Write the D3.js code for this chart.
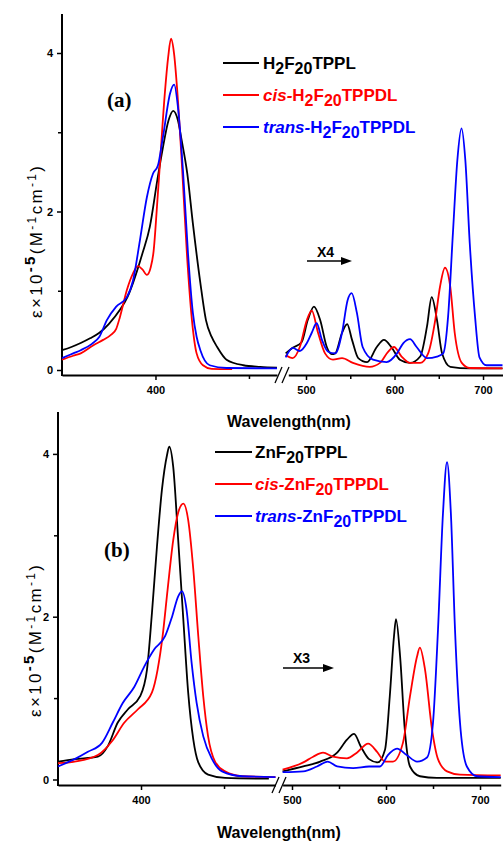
<!DOCTYPE html>
<html>
<head>
<meta charset="utf-8">
<script src="https://cdn.jsdelivr.net/npm/d3@7"></script>
<style>
body { margin: 0; background: #fff; }
svg { display: block; font-family: "Liberation Sans", Arial, sans-serif; }
</style>
</head>
<body>
<svg id="chart" width="503" height="842"></svg>
<script>
// spectra: [wavelength nm, eps x 1e-5]
// panel (a) free bases, Soret region
let aSoretTPPL = [[350,0.25],[355,0.29],[360,0.34],[365,0.40],[370,0.47],[375,0.58],[381,0.76],[385,0.92],[388,1.10],[393,1.47],[397,1.81],[401,2.40],[404,2.81],[407,3.15],[409.5,3.27],[412,3.15],[414,2.90],[417,2.48],[420,1.85],[424,1.10],[427,0.63],[430,0.42],[433,0.29],[438,0.13],[447,0.06],[456,0.04],[465,0.03]];
let aSoretCis = [[350,0.13],[356,0.18],[360,0.21],[366.6,0.31],[372,0.38],[376,0.44],[379,0.52],[381,0.67],[384.7,1.01],[388,1.22],[390.6,1.31],[393,1.27],[395.4,1.20],[397.5,1.30],[399,1.50],[400.8,2.06],[402.4,2.61],[405,3.49],[406.8,3.95],[408.3,4.18],[410,3.98],[411.5,3.57],[414,2.65],[416.8,1.47],[419.5,0.63],[422,0.21],[425.4,0.06],[430,0.015],[441,0.01]];
let aSoretTrans = [[350,0.15],[356,0.21],[360,0.25],[366,0.33],[370,0.42],[374,0.63],[379,0.80],[384.7,0.92],[388,1.13],[391.7,1.64],[395.4,2.18],[398.7,2.48],[401.3,2.58],[404,2.94],[407.8,3.49],[410,3.60],[412,3.32],[414.7,2.52],[417.4,1.47],[420,0.72],[422,0.42],[424,0.25],[429,0.06],[438,0.025],[465,0.02]];
// panel (a) Q bands (x4)
let aQTPPL = [[477,0.21],[485,0.28],[495,0.35],[502,0.63],[509,0.80],[516,0.63],[523.5,0.29],[529,0.20],[533,0.21],[540.7,0.47],[546.5,0.58],[552,0.38],[559,0.15],[569,0.10],[580,0.29],[588,0.38],[597,0.28],[606,0.13],[617.5,0.09],[629,0.17],[636.7,0.55],[642,0.92],[648,0.63],[653.7,0.21],[663,0.04],[685,0.02],[722,0.02]];
let aQCis = [[477,0.19],[485,0.15],[493,0.29],[501,0.63],[506.5,0.75],[513.6,0.47],[521.5,0.21],[530.5,0.13],[540.7,0.15],[553,0.09],[572,0.04],[583.6,0.09],[592.7,0.23],[599.4,0.29],[608,0.17],[617.5,0.09],[629,0.09],[638,0.21],[646,0.63],[651.4,1.05],[657,1.29],[663,1.05],[668,0.47],[676,0.09],[685,0.025],[722,0.02]];
let aQTrans = [[477,0.16],[485,0.28],[493,0.24],[501,0.34],[506.5,0.47],[512,0.59],[518,0.38],[525,0.23],[533,0.21],[540.7,0.47],[547,0.88],[551.6,0.97],[557.5,0.72],[564,0.29],[575.7,0.13],[591,0.10],[602.8,0.21],[610,0.34],[617.5,0.39],[625,0.29],[636.7,0.15],[648,0.17],[655,0.21],[660.5,0.67],[666,1.73],[671,2.65],[675.7,3.05],[680,2.65],[685,1.60],[691,0.67],[696,0.16],[704,0.06],[722,0.06]];

// panel (b) zinc complexes, Soret region
let bSoretTPPL = [[350,0.22],[360,0.25],[374,0.28],[380,0.41],[386,0.70],[392,0.86],[399.4,1.02],[403.6,1.35],[406.6,2.05],[409.6,2.86],[412.6,3.56],[415.7,3.99],[417,4.09],[419.4,3.84],[422.4,2.94],[425.5,1.96],[428.4,1.07],[431.5,0.49],[434.5,0.21],[440.4,0.06],[450.6,0.02],[477,0.01]];
let bSoretCis = [[350,0.20],[360,0.22],[374,0.30],[382.5,0.47],[390,0.70],[398,0.86],[406.6,1.07],[410,1.35],[413,1.76],[416,2.33],[419.4,2.94],[422.4,3.28],[425.5,3.39],[428.4,3.19],[431.5,2.58],[434.5,1.76],[437.5,1.02],[440.4,0.53],[444.6,0.22],[450.6,0.10],[461,0.04],[481,0.03]];
let bSoretTrans = [[350,0.16],[360,0.25],[368,0.34],[376.5,0.45],[383,0.70],[389,0.94],[396,1.14],[402,1.39],[408,1.60],[414.5,1.76],[418.7,2.00],[422.4,2.25],[424.8,2.31],[427.4,2.09],[430.5,1.43],[433.5,0.94],[437.5,0.53],[442.8,0.25],[448.8,0.10],[461,0.04],[481,0.03]];
// panel (b) Q bands (x3)
let bQTPPL = [[490,0.10],[512,0.16],[530,0.22],[548,0.33],[558.5,0.49],[566,0.56],[573.4,0.40],[582,0.25],[591,0.21],[599,0.37],[604,1.02],[608.5,1.76],[610.6,1.97],[615,1.51],[620,0.61],[625.5,0.16],[636,0.04],[654,0.02],[722,0.02]];
let bQCis = [[490,0.12],[512,0.21],[522.5,0.28],[533,0.33],[543.6,0.28],[558.5,0.26],[569,0.33],[581,0.44],[590.5,0.34],[599,0.22],[607.4,0.22],[618,0.45],[625.5,1.02],[633,1.51],[636,1.62],[641.5,1.35],[649,0.61],[655.3,0.25],[664.9,0.10],[678.7,0.06],[722,0.05]];
let bQTrans = [[490,0.09],[512,0.10],[526.6,0.16],[538,0.22],[548,0.16],[565,0.14],[582,0.16],[593.6,0.16],[602,0.30],[611.7,0.38],[622,0.30],[633,0.22],[643.6,0.27],[650,0.70],[655.3,1.84],[660.6,3.27],[664.9,3.90],[669,3.27],[673.4,1.84],[678.7,0.70],[686,0.16],[696.8,0.04],[722,0.03]];

// legend labels: [text, style] with style '' normal, 'i' italic, 's' subscript
let legendA = [
    [['H',''],['2','s'],['F',''],['20','s'],['TPPL','']],
    [['cis-','i'],['H',''],['2','s'],['F',''],['20','s'],['TPPDL','']],
    [['trans-','i'],['H',''],['2','s'],['F',''],['20','s'],['TPPDL','']]
];
let legendB = [
    [['ZnF',''],['20','s'],['TPPL','']],
    [['cis-','i'],['ZnF',''],['20','s'],['TPPDL','']],
    [['trans-','i'],['ZnF',''],['20','s'],['TPPDL','']]
];
let colors = ['#000000', '#ff0000', '#0000ff'];
let yMajor = [0, 2, 4];
let yMinor = [1, 3];
let xLeftMajor = [400];
let xLeftMinor = [450];
let xRightMajor = [500, 600, 700];
let xRightMinor = [550, 650];

let svg = d3.select('#chart');

let panels = [
    {
        tag: '(a)', tagPos: [107, 107], factor: 'X4', factorPos: [317, 257], arrow: [307, 352, 261],
        legend: legendA, legendPos: [223, 259, 263, 63],
        soret: [aSoretTPPL, aSoretCis, aSoretTrans], q: [aQTPPL, aQCis, aQTrans],
        axisX: 62, axisTop: 14, axisY: 375, y0: 370, yUnit: 79.25,
        left: [[350, 465], [62, 277]], right: [[480, 722], [288.3, 502.5]],
        brk: 275, xlabel: [289, 427], ylabel: [42, 242]
    },
    {
        tag: '(b)', tagPos: [104, 557], factor: 'X3', factorPos: [293, 663], arrow: [283, 334, 668],
        legend: legendB, legendPos: [215, 252, 255, 452],
        soret: [bSoretTPPL, bSoretCis, bSoretTrans], q: [bQTPPL, bQCis, bQTrans],
        axisX: 58, axisTop: 412, axisY: 785, y0: 779.5, yUnit: 81.4,
        left: [[350, 481], [58, 275.5]], right: [[490, 722], [282.6, 500.7]],
        brk: 272, xlabel: [279, 838], ylabel: [41, 641]
    }
];

panels.forEach(drawPanel);

function drawPanel(p) {
    let g = svg.append('g');
    let y = d3.scaleLinear().domain([0, 4]).range([p.y0, p.y0 - 4 * p.yUnit]);
    let xL = d3.scaleLinear().domain(p.left[0]).range(p.left[1]);
    let xR = d3.scaleLinear().domain(p.right[0]).range(p.right[1]);

    // y axis
    let yAxis = g.append('g').attr('transform', `translate(${p.axisX},0)`)
        .call(d3.axisLeft(y).tickValues(yMajor).tickSize(5).tickPadding(4).tickFormat(d3.format('d')));
    g.append('g').attr('transform', `translate(${p.axisX},0)`)
        .call(d3.axisLeft(y).tickValues(yMinor).tickSize(4).tickFormat(''))
        .select('.domain').remove();
    yAxis.select('.domain').remove();
    g.append('line')
        .attr('x1', p.axisX).attr('x2', p.axisX)
        .attr('y1', p.axisTop).attr('y2', p.axisY + 1)
        .attr('stroke', '#000').attr('stroke-width', 2);

    // x axis, two segments
    [[xL, xLeftMajor, xLeftMinor], [xR, xRightMajor, xRightMinor]].forEach(function (s) {
        let ax = g.append('g').attr('transform', `translate(0,${p.axisY})`)
            .call(d3.axisBottom(s[0]).tickValues(s[1]).tickSize(5).tickSizeOuter(0).tickPadding(6).tickFormat(d3.format('d')));
        ax.select('.domain').attr('stroke-width', 2);
        g.append('g').attr('transform', `translate(0,${p.axisY})`)
            .call(d3.axisBottom(s[0]).tickValues(s[2]).tickSize(4).tickFormat(''))
            .select('.domain').remove();
    });
    g.selectAll('.tick line').attr('stroke-width', 1.5);
    g.selectAll('.tick text').attr('font-size', 11).attr('font-weight', 'bold').attr('fill', '#000');

    // break marks
    [0, 7].forEach(function (dx) {
        g.append('line')
            .attr('x1', p.brk + dx).attr('y1', p.axisY + 8)
            .attr('x2', p.brk + dx + 7).attr('y2', p.axisY - 8)
            .attr('stroke', '#000').attr('stroke-width', 1.3);
    });

    // spectra
    let lineL = d3.line().x(d => xL(d[0])).y(d => y(d[1])).curve(d3.curveMonotoneX);
    let lineR = d3.line().x(d => xR(d[0])).y(d => y(d[1])).curve(d3.curveMonotoneX);
    g.selectAll('.soret').data(p.soret).enter().append('path')
        .attr('d', lineL).attr('fill', 'none')
        .attr('stroke', (d, i) => colors[i]).attr('stroke-width', 1.8);
    g.selectAll('.qband').data(p.q).enter().append('path')
        .attr('d', lineR).attr('fill', 'none')
        .attr('stroke', (d, i) => colors[i]).attr('stroke-width', 1.8);

    // axis titles
    g.append('text')
        .attr('x', p.xlabel[0]).attr('y', p.xlabel[1])
        .attr('text-anchor', 'middle').attr('font-size', 16).attr('font-weight', 'bold')
        .text('Wavelength(nm)');

    let yl = g.append('text')
        .attr('transform', `translate(${p.ylabel[0]},${p.ylabel[1]}) rotate(-90)`)
        .attr('text-anchor', 'middle').attr('font-size', 17)
        .attr('textLength', 152).attr('lengthAdjust', 'spacing');
    yl.append('tspan').text('ε×10');
    yl.append('tspan').attr('dy', -7).attr('font-size', 15).attr('font-weight', 'bold').text('-5');
    yl.append('tspan').attr('dy', 7).text('(M');
    yl.append('tspan').attr('dy', -6).attr('font-size', 12).text('-1');
    yl.append('tspan').attr('dy', 6).text('cm');
    yl.append('tspan').attr('dy', -6).attr('font-size', 12).text('-1');
    yl.append('tspan').attr('dy', 6).text(')');

    // panel tag
    g.append('text')
        .attr('x', p.tagPos[0]).attr('y', p.tagPos[1])
        .attr('font-family', '"Liberation Serif", "Times New Roman", serif')
        .attr('font-size', 21).attr('font-weight', 'bold')
        .text(p.tag);

    // scale factor with arrow
    g.append('text')
        .attr('x', p.factorPos[0]).attr('y', p.factorPos[1])
        .attr('font-size', 14).attr('font-weight', 'bold')
        .text(p.factor);
    g.append('line')
        .attr('x1', p.arrow[0]).attr('x2', p.arrow[1] - 8)
        .attr('y1', p.arrow[2]).attr('y2', p.arrow[2])
        .attr('stroke', '#000').attr('stroke-width', 1.6);
    g.append('path')
        .attr('d', `M${p.arrow[1]},${p.arrow[2]} l-11,-4 l0,8 z`)
        .attr('fill', '#000');

    // legend
    let lp = p.legendPos;
    p.legend.forEach(function (parts, i) {
        let ly = lp[3] + i * 32;
        g.append('line')
            .attr('x1', lp[0]).attr('x2', lp[1])
            .attr('y1', ly).attr('y2', ly)
            .attr('stroke', colors[i]).attr('stroke-width', 1.8);
        let t = g.append('text')
            .attr('x', lp[2]).attr('y', ly + 6)
            .attr('font-size', 17).attr('font-weight', 'bold')
            .attr('fill', colors[i]);
        let shift = 0;
        parts.forEach(function (part) {
            let ts = t.append('tspan').text(part[0]);
            let want = part[1] === 's' ? 5 : 0;
            ts.attr('dy', want - shift);
            shift = want;
            if (part[1] === 's') ts.attr('font-size', 16);
            if (part[1] === 'i') ts.attr('font-style', 'italic');
        });
    });
}
</script>
</body>
</html>
